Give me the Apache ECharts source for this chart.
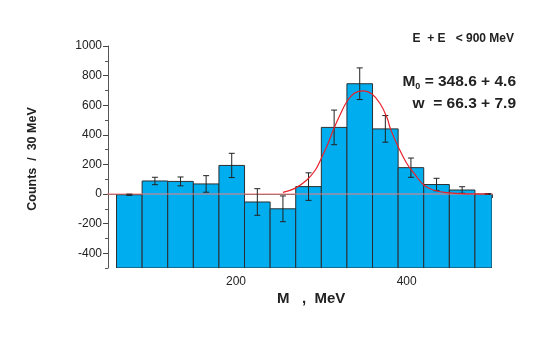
<!DOCTYPE html>
<html><head><meta charset="utf-8">
<script src="https://cdn.jsdelivr.net/npm/echarts@6/dist/echarts.min.js"></script>
<style>html,body{margin:0;padding:0;background:#fff}#c{width:545px;height:345px}</style>
</head><body><div id="c"></div>
<script>
// ---- data ----
var binStart = [60, 90, 120, 150, 180, 210, 240, 270, 300, 330, 360, 390, 420, 450, 480];
var binWidth = 30;
var counts = [-5, 88, 85, 68, 193, -54, -100, 50, 450, 745, 440, 178, 64, 27, 0];
var errors = [4, 25, 30, 56, 82, 90, 87, 93, 117, 107, 90, 65, 42, 22, 3];
var fitM = [255, 269, 283, 293, 300, 308, 314, 322, 330, 339, 349, 359, 369, 377, 381, 390, 400, 410, 420, 431, 447, 470, 496];
var fitV = [11, 38, 95, 162, 242, 343, 433, 535, 625, 682, 697, 677, 610, 515, 440, 320, 208, 129, 61, 27, 9, 1, 0];
var zeroLineM = [0, 505];
var yLabels = [-400, -200, 0, 200, 400, 600, 800, 1000];
var xLabels = [200, 400];
var xTicks = [100, 200, 300, 400, 500];

var yMin = -500, yMax = 1000;
var barData = binStart.map(function (s, i) { return [s, s + binWidth, counts[i], errors[i]]; });

var chart = echarts.init(document.getElementById('c'));
var font = 'Liberation Sans, Arial, sans-serif';
chart.setOption({
  animation: false,
  grid: { left: 108, right: 53, top: 46, bottom: 77 },
  xAxis: {
    type: 'value', min: 50, max: 500,
    axisLine: { lineStyle: { color: '#666', width: 1 } },
    axisTick: { customValues: xTicks, length: 4, lineStyle: { color: '#444' } },
    axisLabel: { customValues: xLabels, color: '#222', fontSize: 12, fontFamily: font, margin: 8 },
    splitLine: { show: false }
  },
  yAxis: [{
    type: 'value', min: yMin, max: yMax, interval: 100,
    axisLine: { show: true, lineStyle: { color: '#555', width: 1 } },
    axisTick: { show: true, length: 3, lineStyle: { color: '#555' } },
    axisLabel: {
      color: '#222', fontSize: 12, fontFamily: font, margin: 6,
      formatter: function (v) { return yLabels.indexOf(v) >= 0 ? String(v) : ''; }
    },
    splitLine: { show: false }
  }, {
    type: 'value', min: yMin, max: yMax, position: 'left',
    axisLine: { show: false },
    axisTick: { show: true, customValues: yLabels, length: 5, lineStyle: { color: '#444' } },
    axisLabel: { show: false },
    splitLine: { show: false }
  }],
  series: [{
    type: 'custom',
    clip: true,
    data: barData,
    renderItem: function (params, api) {
      var x0 = api.value(0), x1 = api.value(1), v = api.value(2);
      var p0 = api.coord([x0, v]);
      var p1 = api.coord([x1, yMin]);
      var cs = params.coordSys;
      var shape = echarts.graphic.clipRectByRect(
        { x: p0[0], y: p0[1], width: p1[0] - p0[0], height: p1[1] - p0[1] },
        { x: cs.x, y: cs.y, width: cs.width, height: cs.height });
      if (!shape) return;
      return {
        type: 'rect', shape: shape,
        style: { fill: '#00aeef', stroke: '#2a2f33', lineWidth: 1 }
      };
    },
    z: 2
  }, {
    type: 'line',
    data: zeroLineM.map(function (m) { return [m, 0]; }),
    clip: false, symbol: 'none',
    lineStyle: { color: '#f47c7c', width: 1 },
    z: 3
  }, {
    type: 'custom',
    data: barData,
    renderItem: function (params, api) {
      var xc = (api.value(0) + api.value(1)) / 2, v = api.value(2), e = api.value(3);
      var top = api.coord([xc, v + e]);
      var bot = api.coord([xc, v - e]);
      var cw = 3;
      var st = { stroke: '#222', lineWidth: 1 };
      return {
        type: 'group',
        children: [
          { type: 'line', shape: { x1: top[0], y1: top[1], x2: bot[0], y2: bot[1] }, style: st },
          { type: 'line', shape: { x1: top[0] - cw, y1: top[1], x2: top[0] + cw, y2: top[1] }, style: st },
          { type: 'line', shape: { x1: bot[0] - cw, y1: bot[1], x2: bot[0] + cw, y2: bot[1] }, style: st }
        ]
      };
    },
    z: 4
  }, {
    type: 'line',
    data: fitM.map(function (m, i) { return [m, fitV[i]]; }),
    smooth: 0.4, symbol: 'none', clip: false,
    lineStyle: { color: '#e8202a', width: 1.2 },
    z: 5
  }],
  graphic: [
    { type: 'text', right: 31, top: 33, style: { text: 'E  + E   < 900 MeV', font: 'bold 12px ' + font, fill: '#222' } },
    { type: 'text', right: 29, top: 74, style: {
      text: '{a|M}{s|0}{a| = 348.6 + 4.6}',
      rich: { a: { font: 'bold 15.5px ' + font, fill: '#222' }, s: { font: 'bold 9px ' + font, fill: '#222', padding: [10, 0, 0, 0] } } } },
    { type: 'text', right: 29, top: 96, style: { text: 'w  = 66.3 + 7.9', font: 'bold 15.5px ' + font, fill: '#222' } },
    { type: 'text', left: 277, top: 291, style: { text: 'M   ,  MeV', font: 'bold 15px ' + font, fill: '#222' } },
    { type: 'text', x: 33, y: 159, rotation: Math.PI / 2, style: { text: 'Counts  /  30 MeV', font: 'bold 12.5px ' + font, fill: '#222', align: 'center', verticalAlign: 'middle' } }
  ]
});
</script>
</body></html>
